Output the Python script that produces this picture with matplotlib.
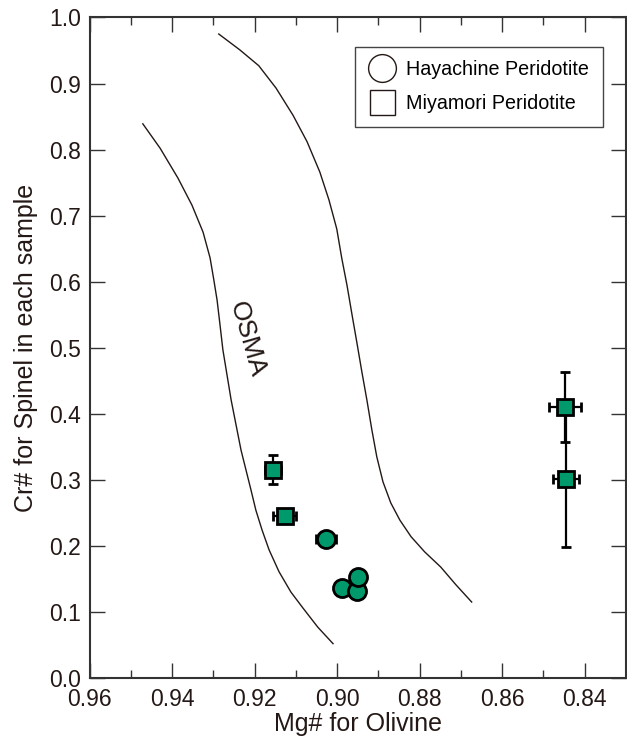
import matplotlib
matplotlib.use("Agg")
import matplotlib.pyplot as plt
from matplotlib.ticker import MultipleLocator

plt.rcParams['font.family'] = ['Liberation Sans', 'DejaVu Sans']

INK = '#231815'
GREEN = '#00996B'

# OSMA band outlines
osma_left_x = [0.9471, 0.9429, 0.9386, 0.9352, 0.9325, 0.9308, 0.9299, 0.9291,
               0.9284, 0.9277, 0.9267, 0.9257, 0.9245, 0.9233, 0.9221, 0.9209,
               0.9197, 0.9182, 0.9165, 0.9141, 0.9112, 0.9083, 0.9047, 0.9010]
osma_left_y = [0.839, 0.802, 0.757, 0.716, 0.675, 0.636, 0.603, 0.572,
               0.535, 0.497, 0.459, 0.421, 0.383, 0.345, 0.315, 0.285,
               0.254, 0.224, 0.194, 0.161, 0.130, 0.106, 0.077, 0.052]
osma_right_x = [0.9287, 0.9236, 0.9190, 0.9148, 0.9107, 0.9073, 0.9042, 0.9020,
                0.9001, 0.8989, 0.8976, 0.8964, 0.8952, 0.8940, 0.8928, 0.8916,
                0.8904, 0.8889, 0.8870, 0.8848, 0.8821, 0.8788, 0.8749, 0.8712,
                0.8674]
osma_right_y = [0.975, 0.951, 0.927, 0.893, 0.852, 0.812, 0.766, 0.724,
                0.680, 0.636, 0.594, 0.550, 0.507, 0.463, 0.421, 0.376,
                0.335, 0.297, 0.265, 0.239, 0.214, 0.191, 0.168, 0.141,
                0.115]

# Hayachine Peridotite
haya_mg = [0.9027, 0.8989, 0.8951, 0.8949]
haya_cr = [0.210, 0.136, 0.131, 0.153]
haya_mg_err = [0.0025, 0.0, 0.0, 0.0]
haya_cr_err = [0.0, 0.0, 0.0, 0.0]

# Miyamori Peridotite
miya_mg = [0.9155, 0.9127, 0.8446, 0.8447]
miya_cr = [0.315, 0.246, 0.302, 0.411]
miya_mg_err = [0.002, 0.0028, 0.0031, 0.0039]
miya_cr_err = [0.022, 0.0, 0.1035, 0.053]

fig = plt.figure(figsize=(6.27, 7.38), dpi=100)
ax = fig.add_axes([0.1429, 0.0813, 0.8555, 0.895])

ax.plot(osma_left_x, osma_left_y, color=INK, lw=1.0, zorder=1)
ax.plot(osma_right_x, osma_right_y, color=INK, lw=1.0, zorder=1)
ax.text(0.9219, 0.513, "OSMA", rotation=-74, ha='center', va='center',
        fontsize=19, color=INK)

ax.errorbar(miya_mg, miya_cr, xerr=miya_mg_err, yerr=miya_cr_err, fmt='s',
            ms=12, mfc=GREEN, mec='black', mew=2, ecolor='black',
            elinewidth=1.6, capsize=3.5, capthick=1.6, zorder=3)
ax.errorbar(haya_mg, haya_cr, xerr=haya_mg_err, yerr=haya_cr_err, fmt='o',
            ms=13, mfc=GREEN, mec='black', mew=2, ecolor='black',
            elinewidth=1.6, capsize=3.5, capthick=1.6, zorder=3)

# legend entries: open symbols
h1, = ax.plot([], [], 'o', ms=20, mfc='white', mec=INK, mew=1.0,
              label='Hayachine Peridotite')
h2, = ax.plot([], [], 's', ms=18, mfc='white', mec=INK, mew=1.0,
              label='Miyamori Peridotite')
leg = ax.legend(handles=[h1, h2], loc='upper right',
                bbox_to_anchor=(0.957, 0.956), borderaxespad=0,
                fontsize=14.2, fancybox=False, edgecolor='#444444',
                framealpha=1, handletextpad=0.55, labelspacing=0.75,
                borderpad=0.7, handlelength=1.35)
leg.get_frame().set_linewidth(1.0)

ax.set_xlim(0.96, 0.83)
ax.set_ylim(0.0, 1.0)
ax.xaxis.set_major_locator(MultipleLocator(0.02))
ax.xaxis.set_minor_locator(MultipleLocator(0.01))
ax.yaxis.set_major_locator(MultipleLocator(0.1))
ax.set_xticks([0.96, 0.94, 0.92, 0.90, 0.88, 0.86, 0.84])
ax.set_xticklabels(['0.96', '0.94', '0.92', '0.90', '0.88', '0.86', '0.84'])
ax.set_yticks([i / 10 for i in range(11)])
ax.set_yticklabels([f'{i / 10:.1f}' for i in range(11)])

ax.tick_params(which='both', direction='in', top=True, right=True,
               colors='#333333', labelcolor=INK, width=1.0)
ax.tick_params(which='major', length=11, labelsize=16.5)
ax.tick_params(which='minor', length=6)
ax.tick_params(axis='x', pad=7)
ax.tick_params(axis='y', pad=6)
for s in ax.spines.values():
    s.set_color('#333333')
    s.set_linewidth(1.5)

ax.set_xlabel("Mg# for Olivine", fontsize=18, color=INK, labelpad=1)
ax.set_ylabel("Cr# for Spinel in each sample", fontsize=18, color=INK,
              labelpad=8)

fig.savefig("out.png", dpi=100)
